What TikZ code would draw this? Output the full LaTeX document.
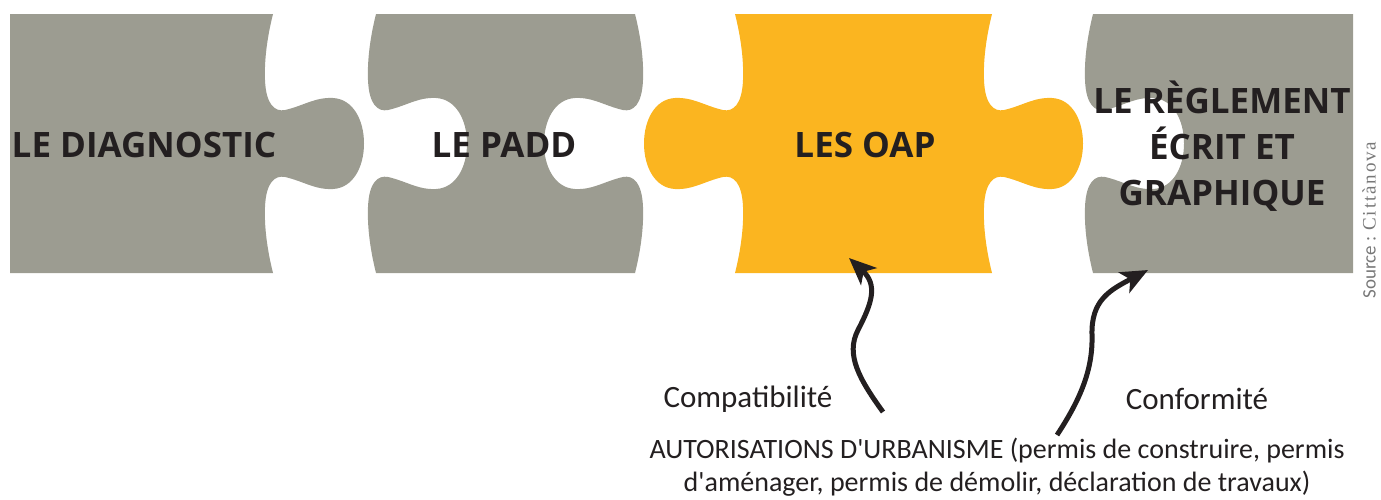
\documentclass[tikz,border=0pt]{standalone}
\usepackage{fontspec}
\setmainfont{Carlito}
\newfontfamily\headfont{Open Sans}
\newfontfamily\srcserif[LetterSpace=10]{Liberation Serif}
\usetikzlibrary{arrows.meta}
\definecolor{pgray}{RGB}{156,156,145}
\definecolor{porange}{RGB}{251,181,32}
\definecolor{tdark}{RGB}{35,31,32}
\definecolor{srcgray}{RGB}{120,120,120}
\newcommand\edgedown[2]{
 .. controls ({#1+(#2)*(-4)},30) and ({#1+(#2)*(-9)},55) .. ({#1+(#2)*(-8)},80)
 .. controls ({#1+(#2)*(-7)},105) and ({#1+(#2)*2},112) .. ({#1+(#2)*12},110)
 .. controls ({#1+(#2)*30},106) and ({#1+(#2)*42},97) .. ({#1+(#2)*60},98)
 .. controls ({#1+(#2)*80},99) and ({#1+(#2)*91},120) .. ({#1+(#2)*91},143.5)
 .. controls ({#1+(#2)*91},167) and ({#1+(#2)*80},188) .. ({#1+(#2)*60},189)
 .. controls ({#1+(#2)*42},190) and ({#1+(#2)*30},181) .. ({#1+(#2)*12},177)
 .. controls ({#1+(#2)*2},175) and ({#1+(#2)*(-7)},182) .. ({#1+(#2)*(-8)},207)
 .. controls ({#1+(#2)*(-9)},232) and ({#1+(#2)*(-4)},257) .. (#1,273)}
\newcommand\edgeup[2]{
 .. controls ({#1+(#2)*(-4)},257) and ({#1+(#2)*(-9)},232) .. ({#1+(#2)*(-8)},207)
 .. controls ({#1+(#2)*(-7)},182) and ({#1+(#2)*2},175) .. ({#1+(#2)*12},177)
 .. controls ({#1+(#2)*30},181) and ({#1+(#2)*42},190) .. ({#1+(#2)*60},189)
 .. controls ({#1+(#2)*80},188) and ({#1+(#2)*91},167) .. ({#1+(#2)*91},143.5)
 .. controls ({#1+(#2)*91},120) and ({#1+(#2)*80},99) .. ({#1+(#2)*60},98)
 .. controls ({#1+(#2)*42},97) and ({#1+(#2)*30},106) .. ({#1+(#2)*12},110)
 .. controls ({#1+(#2)*2},112) and ({#1+(#2)*(-7)},105) .. ({#1+(#2)*(-8)},80)
 .. controls ({#1+(#2)*(-9)},55) and ({#1+(#2)*(-4)},30) .. (#1,14)}
\tikzset{
  piecegray/.style={fill=pgray, draw=none},
  pieceorange/.style={fill=porange, draw=none},
  head/.style={text=tdark, inner sep=0pt, align=center, font=\headfont\bfseries\fontsize{35}{46}\selectfont},
  lower/.style={text=tdark, inner sep=0pt, align=center, font=\fontsize{31}{37}\selectfont},
  lowersmall/.style={text=tdark, inner sep=0pt, align=center, font=\fontsize{28}{33}\selectfont},
  bigarrow/.style={line width=5pt, draw=tdark, -{Stealth[length=27pt,width=23pt,inset=7pt]}}
}
\begin{document}
\begin{tikzpicture}[x=1pt,y=-1pt]
\useasboundingbox (0,0) rectangle (1381,499);
% puzzle pieces
\path[piecegray] (10,14) -- (273,14) \edgedown{273}{1} -- (10,273) -- cycle;
\path[piecegray] (376,14) -- (635,14) \edgedown{635}{-1} -- (376,273) \edgeup{376}{1} -- cycle;
\path[pieceorange] (735,14) -- (992,14) \edgedown{992}{1} -- (735,273) \edgeup{735}{-1} -- cycle;
\path[piecegray] (1093,14) -- (1353,14) -- (1353,273) -- (1093,273) \edgeup{1093}{1} -- cycle;
% titles
\node[head] (diag) at (144,145) {LE DIAGNOSTIC};
\node[head] (padd) at (504,145) {LE PADD};
\node[head] (oap) at (865,145) {LES OAP};
\node[head] (regl) at (1222,146) {LE RÈGLEMENT\\ÉCRIT ET\\GRAPHIQUE};
% source
\node[rotate=90, text=srcgray, inner sep=0pt, font=\fontsize{19}{19}\selectfont] (src) at (1369,220) {Source : {\srcserif Cittànova}};
% lower texts
\node[lower] (compat) at (748,399) {Compatibilité};
\node[lower] (conf) at (1197,399) {Conformité};
\node[lowersmall] (autor) at (997,467) {AUTORISATIONS D\textquotesingle URBANISME (permis de construire, permis\\d\textquotesingle aménager, permis de démolir, déclaration de travaux)};
% arrows
\coordinate (a1s) at (883,412);
\coordinate (a1e) at (849,258);
\coordinate (a2s) at (1057,435);
\coordinate (a2e) at (1148,270);
\draw[bigarrow] (a1s) .. controls (860,380) and (845,355) .. (858,330) .. controls (872,303) and (878,285) .. (a1e);
\draw[bigarrow] (a2s) .. controls (1080,400) and (1093,370) .. (1092,335) .. controls (1091,300) and (1110,290) .. (a2e);
\end{tikzpicture}
\end{document}
